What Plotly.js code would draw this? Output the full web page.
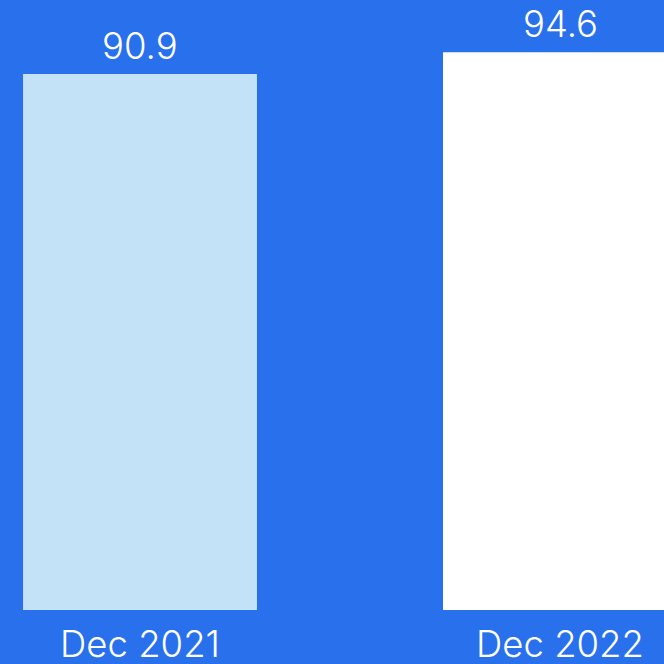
<!DOCTYPE html>
<html><head><meta charset="utf-8">
<script src="https://cdn.plot.ly/plotly-3.0.1.min.js"></script>
<style>html,body{margin:0;padding:0;background:#2970ED;}#chart{width:664px;height:664px;}</style>
</head><body><div id="chart"></div>
<script>
const categories = ["Dec 2021", "Dec 2022"];
const values = [90.9, 94.6];
const valueLabels = ["90.9", "94.6"];
const barColors = ["#C4E2F7", "#FFFFFF"];

const annotations = categories.map((c, i) => ({
  x: c, y: values[i], text: valueLabels[i],
  xref: "x", yref: "y", showarrow: false,
  yanchor: "bottom", xanchor: "center", yshift: 4,
  font: {family: "Inter", size: 36.5, color: "#FFFFFF", weight: 300}
}));

Plotly.newPlot("chart", [{
  type: "bar",
  x: categories,
  y: values,
  marker: {color: barColors, line: {width: 0}},
  hoverinfo: "none"
}], {
  width: 664, height: 664,
  margin: {l: 0, r: 0, t: 0, b: 54},
  paper_bgcolor: "#2970ED",
  plot_bgcolor: "#2970ED",
  bargap: 0.443,
  showlegend: false,
  font: {family: "Inter", color: "#FFFFFF"},
  annotations: annotations,
  xaxis: {
    type: "category",
    range: [-0.3333, 1.2476],
    showgrid: false, zeroline: false, showline: false, ticks: "",
    ticklabelstandoff: 9,
    tickfont: {family: "Inter", size: 36.5, color: "#FFFFFF", weight: 300}
  },
  yaxis: {
    range: [0, 103.44],
    visible: false, showgrid: false, zeroline: false
  }
}, {staticPlot: true, displayModeBar: false});
</script></body></html>
